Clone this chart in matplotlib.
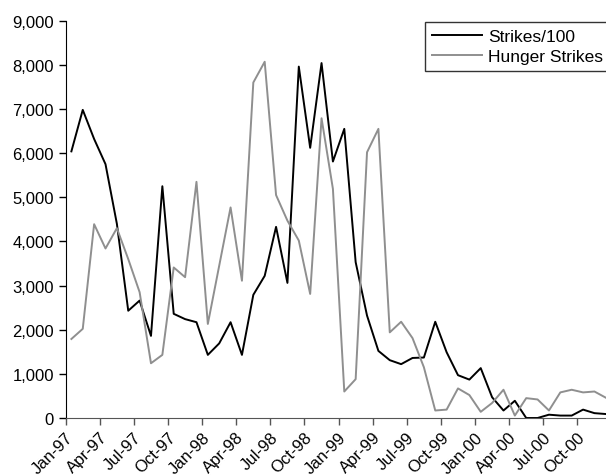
import numpy as np
import matplotlib
matplotlib.use("Agg")
import matplotlib.pyplot as plt
from matplotlib.ticker import FuncFormatter

plt.rcParams["font.family"] = ["Liberation Sans", "DejaVu Sans"]

# Monthly values, Jan-97 .. Dec-00
strikes_100 = [
    6040, 6980, 6320, 5750, 4400, 2430, 2660, 1860, 5250, 2360, 2240, 2170,
    1430, 1690, 2170, 1430, 2790, 3220, 4330, 3060, 7960, 6120, 8040, 5810,
    6550, 3530, 2320, 1520, 1310, 1220, 1360, 1370, 2180, 1490, 970, 870,
    1130, 470, 170, 390, 0, 0, 75, 55, 55, 190, 110, 90,
]
hunger_strikes = [
    1790, 2020, 4390, 3840, 4300, 3600, 2850, 1240, 1430, 3410, 3190, 5350,
    2130, 3450, 4770, 3110, 7600, 8070, 5050, 4470, 4020, 2810, 6790, 5190,
    600, 880, 6020, 6550, 1940, 2180, 1810, 1150, 170, 190, 670, 520,
    140, 340, 640, 55, 450, 420, 170, 580, 640, 580, 600, 460,
]
tick_labels = [
    "Jan-97", "Apr-97", "Jul-97", "Oct-97", "Jan-98", "Apr-98", "Jul-98", "Oct-98",
    "Jan-99", "Apr-99", "Jul-99", "Oct-99", "Jan-00", "Apr-00", "Jul-00", "Oct-00",
]

x = np.arange(len(strikes_100)) + 0.5

fig = plt.figure(figsize=(6.06, 4.77), dpi=100)
ax = fig.add_axes([65.7 / 606, 58 / 477, 545.8 / 606, 397.3 / 477])

ax.plot(x, strikes_100, color="black", linewidth=1.4, label="Strikes/100")
ax.plot(x, hunger_strikes, color="#8f8f8f", linewidth=1.4, label="Hunger Strikes")

ax.set_xlim(0, 48)
ax.set_ylim(0, 9000)
ax.set_yticks(range(0, 9001, 1000))
ax.yaxis.set_major_formatter(FuncFormatter(lambda v, p: f"{int(v):,}"))
ax.set_xticks(np.arange(0, 48, 3))
ax.set_xticklabels(tick_labels, rotation=45, ha="right", rotation_mode="anchor")
ax.tick_params(axis="both", labelsize=12, direction="out", length=5, width=1)
ax.tick_params(axis="x", colors="#555555", labelcolor="black", pad=3)

ax.spines[["top", "right"]].set_visible(False)
ax.spines["bottom"].set_color("#555555")
ax.spines["left"].set_color("black")

leg = ax.legend(loc="upper right", fontsize=12.5, frameon=True, fancybox=False,
                handlelength=2.9, borderaxespad=0.08, borderpad=0.4,
                labelspacing=0.25, handletextpad=0.35)
leg.get_frame().set_edgecolor("black")
leg.get_frame().set_linewidth(1.0)

fig.savefig("out.png", dpi=100)
